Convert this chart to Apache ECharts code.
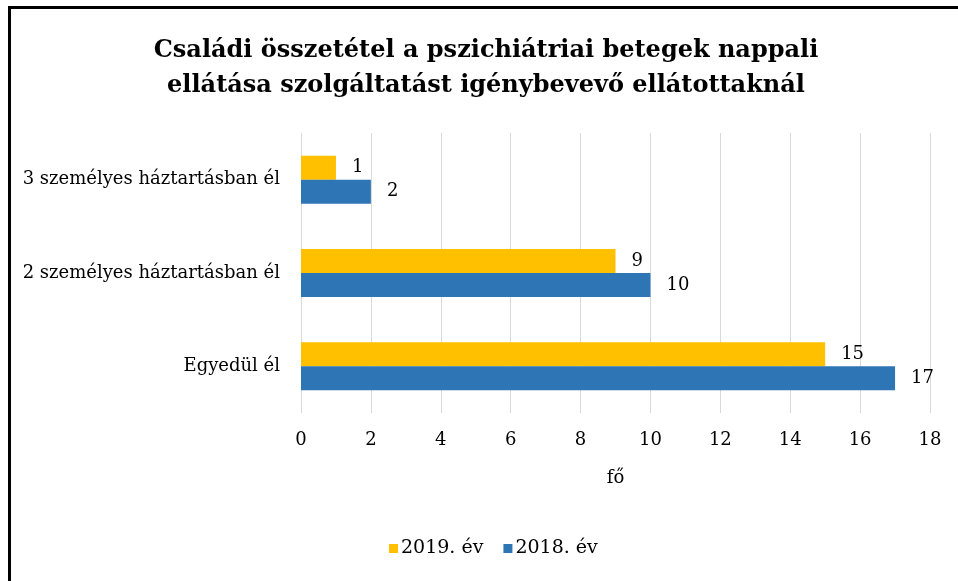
<!DOCTYPE html>
<html>
<head>
<meta charset="utf-8">
<script src="https://cdn.jsdelivr.net/npm/echarts@6/dist/echarts.min.js"></script>
<style>
  html, body { margin: 0; padding: 0; background: #fff; }
  #frame {
    position: absolute; left: 8px; top: 6px; right: 0; bottom: 0;
    border-left: 3px solid #000; border-top: 3px solid #000;
  }
  #echart { position: absolute; left: 0; top: 0; width: 958px; height: 581px; }
</style>
</head>
<body>
<div id="frame"></div>
<div id="echart"></div>
<script>
// categories, bottom to top
var categories = ['Egyedül él', '2 személyes háztartásban él', '3 személyes háztartásban él'];
var values2019 = [15, 9, 1];
var values2018 = [17, 10, 2];
var seriesNames = ['2019. év', '2018. év'];

var font = '"DejaVu Serif", "Liberation Serif", serif';

var myChart = echarts.init(document.getElementById('echart'));
var options = {
  animation: false,
  title: {
    text: 'Családi összetétel a pszichiátriai betegek nappali\nellátása szolgáltatást igénybevevő ellátottaknál',
    left: 481,
    top: 28,
    textAlign: 'center',
    textStyle: {
      fontFamily: font,
      fontSize: 24,
      fontWeight: 'bold',
      color: '#000',
      lineHeight: 35
    }
  },
  legend: {
    data: seriesNames,
    left: 384,
    top: 534,
    itemWidth: 9,
    itemHeight: 9,
    itemGap: 20,
    icon: 'rect',
    textStyle: { fontFamily: font, fontSize: 19, color: '#000', padding: [0, 0, 0, -2] }
  },
  grid: {
    left: 301,
    right: 28,
    top: 133,
    bottom: 168
  },
  xAxis: {
    type: 'value',
    min: 0,
    max: 18,
    interval: 2,
    name: 'fő',
    nameLocation: 'middle',
    nameGap: 56,
    nameTextStyle: { fontFamily: font, fontSize: 18, color: '#000' },
    axisLine: { show: false },
    axisTick: { show: false },
    axisLabel: { fontFamily: font, fontSize: 18, color: '#000', margin: 18 },
    splitLine: { lineStyle: { color: '#d9d9d9', width: 1 } }
  },
  yAxis: {
    type: 'category',
    data: categories,
    axisLine: { show: false },
    axisTick: { show: false },
    axisLabel: { fontFamily: font, fontSize: 18, color: '#000', margin: 21 }
  },
  series: [
    {
      name: seriesNames[0],
      type: 'bar',
      data: values2019,
      barWidth: 24,
      barGap: '0%',
      itemStyle: { color: '#ffc000' },
      label: { show: true, position: 'right', distance: 16, fontFamily: font, fontSize: 18, color: '#000' }
    },
    {
      name: seriesNames[1],
      type: 'bar',
      data: values2018,
      barWidth: 24,
      barGap: '0%',
      itemStyle: { color: '#2e75b6' },
      label: { show: true, position: 'right', distance: 16, fontFamily: font, fontSize: 18, color: '#000' }
    }
  ]
};
myChart.setOption(options);
</script>
</body>
</html>
